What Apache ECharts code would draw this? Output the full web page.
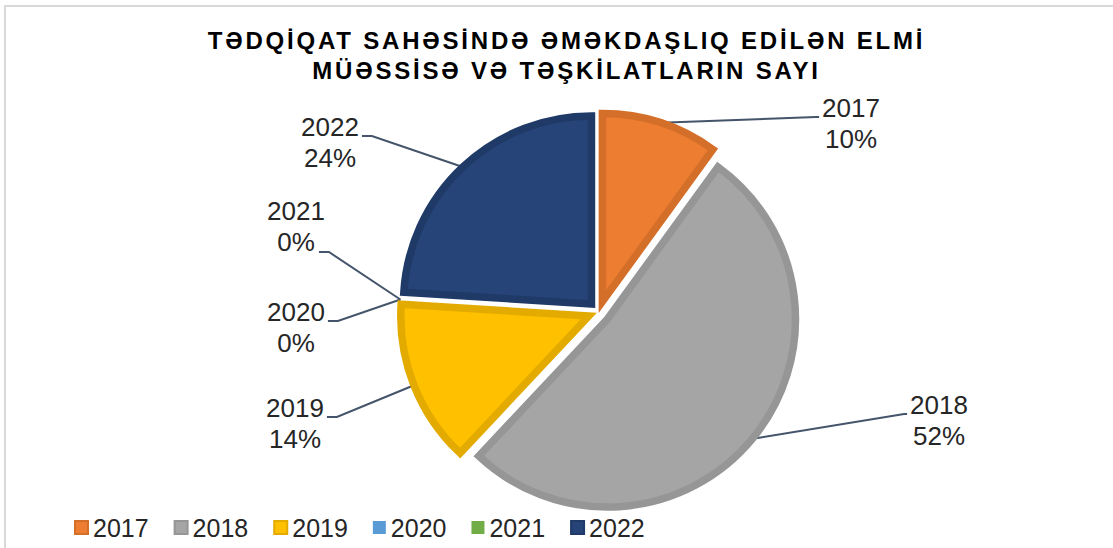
<!DOCTYPE html>
<html>
<head>
<meta charset="utf-8">
<script src="https://cdn.jsdelivr.net/npm/echarts@6/dist/echarts.min.js"></script>
<style>
  html, body { margin: 0; padding: 0; background: #fff; }
  #wrap { position: relative; width: 1113px; height: 548px; overflow: hidden; }
  #frame { position: absolute; left: 4px; top: 5px; width: 1130px; height: 570px; border: 2px solid #d9d9d9; box-sizing: border-box; }
  #chart { position: absolute; left: 0; top: 0; width: 1113px; height: 548px; }
  #title { position: absolute; left: 10px; top: 26px; width: 1113px; text-align: center;
           font: bold 24px "Liberation Sans", Arial, sans-serif; letter-spacing: 2.8px; line-height: 30px; color: #000; }
</style>
</head>
<body>
<div id="wrap">
  <div id="frame"></div>
  <div id="chart"></div>
  <div id="title">TƏDQİQAT SAHƏSİNDƏ ƏMƏKDAŞLIQ EDİLƏN ELMİ<br>MÜƏSSİSƏ VƏ TƏŞKİLATLARIN SAYI</div>
</div>
<script>
// data
const years = ['2017', '2018', '2019', '2020', '2021', '2022'];
const shares = [10, 52, 14, 0, 0, 24];

// styles
const fills = ['#ED7D31', '#A5A5A5', '#FFC000', '#5B9BD5', '#70AD47', '#264478'];
const edges = ['#D46F2A', '#969696', '#E3AB00', '#4F8AC0', '#62993D', '#203A68'];
const PIE_CENTER = [599, 312];
const PIE_R = 188;
const EXPLODE = 11;
// where each label block sits (centre) and which side the leader line meets
const labelSpots = [
  [851, 123, 'left'], [939, 420, 'left'], [295, 423, 'right'],
  [296, 327, 'right'], [296, 226, 'rightBottom'], [330, 142, 'right']
];

const chart = echarts.init(document.getElementById('chart'), null, { renderer: 'svg' });

chart.setOption({
  animation: false,
  legend: {
    left: 69,
    bottom: 3,
    itemWidth: 13,
    itemHeight: 13,
    itemGap: 25,
    icon: 'rect',
    selectedMode: false,
    textStyle: { fontSize: 25, color: '#262626', fontFamily: 'Liberation Sans' },
    data: years
  },
  series: [
    {
      // the exploded slices
      type: 'pie',
      z: 3,
      center: PIE_CENTER,
      radius: PIE_R,
      startAngle: 90,
      clockwise: true,
      selectedMode: 'multiple',
      selectedOffset: EXPLODE,
      emphasis: { disabled: true },
      label: { show: false },
      labelLine: { show: false },
      data: years.map((y, i) => {
        const st = { color: fills[i], borderColor: edges[i], borderWidth: shares[i] ? 7.5 : 0, borderJoin: 'miter' };
        return { name: y, value: shares[i], selected: true, itemStyle: st, select: { itemStyle: st } };
      })
    },
    {
      // same data, invisible sectors, only carries labels and leader lines
      type: 'pie',
      z: 2,
      silent: true,
      center: PIE_CENTER,
      radius: PIE_R,
      startAngle: 90,
      clockwise: true,
      selectedMode: false,
      avoidLabelOverlap: false,
      emphasis: { disabled: true },
      itemStyle: { color: 'rgba(0,0,0,0)', borderWidth: 0 },
      data: years.map((y, i) => ({ name: y, value: shares[i] })),
      label: {
        formatter: '{b}\n{d}%',
        fontSize: 26,
        lineHeight: 31,
        color: '#262626',
        fontFamily: 'Liberation Sans',
        align: 'center'
      },
      labelLine: {
        show: true,
        length: 10,
        length2: 10,
        lineStyle: { color: '#44546A', width: 2 }
      },
      labelLayout(p) {
        const s = labelSpots[p.dataIndex];
        const w = p.labelRect.width, h = p.labelRect.height;
        // push the arc end out by the explode distance, like the slice itself
        const p0 = p.labelLinePoints[0];
        const vx = p0[0] - PIE_CENTER[0], vy = p0[1] - PIE_CENTER[1];
        const len = Math.sqrt(vx * vx + vy * vy) || 1;
        const start = [p0[0] + vx / len * EXPLODE, p0[1] + vy / len * EXPLODE];
        let ax, ay, bx;
        if (s[2] === 'left') {
          ax = s[0] - w / 2 - 3; ay = s[1] - 6; bx = ax - 3;
        } else if (s[2] === 'right') {
          ax = s[0] + w / 2 + 3; ay = s[1] - 6; bx = ax + 10;
        } else {
          ax = s[0] + w / 2 - 6; ay = s[1] + h / 2 - 5; bx = ax + 10;
        }
        return {
          x: s[0],
          y: s[1],
          align: 'center',
          verticalAlign: 'middle',
          labelLinePoints: [start, [bx, ay], [ax, ay]]
        };
      }
    }
  ]
});
</script>
</body>
</html>
